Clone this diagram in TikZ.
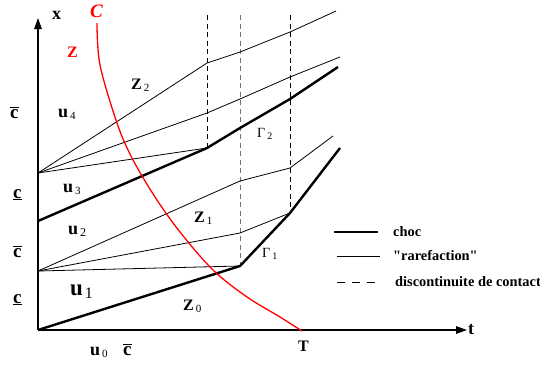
\documentclass[tikz,border=0pt]{standalone}
\usepackage{fontspec}
\setmainfont{Liberation Serif}
\newfontfamily\plainserif{Liberation Serif}
\usetikzlibrary{arrows.meta}
\newcommand\lsub[2]{\hspace{2pt}\raisebox{-0.35ex}{\fontsize{#1}{#1}\selectfont\mdseries #2}}
\newcommand\cbar{\ensuremath{\overline{\hbox{c}}}}
\begin{document}
\begin{tikzpicture}[x=1pt,y=-1pt,
  axis/.style={line width=1.4pt,-{Triangle[length=11pt,width=7.5pt]}},
  shock/.style={line width=2.4pt,line join=round},
  rare/.style={line width=0.8pt,line join=round},
  contact/.style={line width=0.9pt,dash pattern=on 5pt off 3.5pt},
  legdash/.style={line width=0.9pt,dash pattern=on 8pt off 7pt},
  curveC/.style={red,line width=1.3pt},
  lab/.style={inner sep=0pt,anchor=base west,font=\fontsize{18}{18}\selectfont\bfseries},
  clab/.style={inner sep=0pt,anchor=base west,font=\fontsize{19}{19}\selectfont\bfseries},
  zlab/.style={inner sep=0pt,anchor=base west,font=\fontsize{16}{16}\selectfont\bfseries},
  glab/.style={inner sep=0pt,anchor=base west,font=\fontsize{14}{14}\selectfont},
  leg/.style={inner sep=0pt,anchor=base west,font=\plainserif\fontsize{14.4}{14.4}\selectfont\bfseries}]
\useasboundingbox (0,0) rectangle (540,365);
% axis points
\coordinate (O) at (38,330);
\coordinate (Ytip) at (38,18);
\coordinate (Xtip) at (467,330);
\coordinate (A4) at (38,173);
\coordinate (A3) at (38,221);
\coordinate (A2) at (38,271);
% upper fan
\coordinate (P1a) at (207,63);  \coordinate (P1b) at (240,52);  \coordinate (P1c) at (290,32);  \coordinate (P1d) at (336,11);
\coordinate (P2a) at (207,113); \coordinate (P2b) at (240,99);  \coordinate (P2c) at (290,77);  \coordinate (P2d) at (340,57);
\coordinate (S2a) at (207,148); \coordinate (S2b) at (240,128); \coordinate (S2c) at (290,99);  \coordinate (S2d) at (338,67);
% lower fan
\coordinate (La) at (240,181);  \coordinate (Lb) at (290,168);  \coordinate (Lc) at (333,136);
\coordinate (Mb) at (240,233);
\coordinate (S1b) at (240,266); \coordinate (S1c) at (290,213); \coordinate (S1d) at (340,148);
% dashed tops
\coordinate (D1) at (207,15); \coordinate (D2) at (240,15); \coordinate (D3) at (290,15);
% curve C
\coordinate (Cstart) at (97,23);
\coordinate (Cend) at (302,331);

% axes
\draw[axis] (O) -- (Ytip);
\draw[axis] (O) -- (Xtip);

% contact discontinuities
\draw[contact] (D1) -- (S2a);
\draw[contact,black!55] (D2) -- (S1b);
\draw[contact] (D3) -- (S1c);

% upper rarefaction fan
\draw[rare] (A4) -- (P1a) -- (P1b) -- (P1c) -- (P1d);
\draw[rare] (A4) -- (P2a) -- (P2b) -- (P2c) -- (P2d);
\draw[rare] (A4) -- (S2a);
% shock Gamma 2
\draw[shock] (A3) -- (S2a) -- (S2b) -- (S2c) -- (S2d);

% lower rarefaction fan
\draw[rare] (A2) -- (La) -- (Lb) -- (Lc);
\draw[rare] (A2) -- (Mb) -- (S1c);
\draw[rare] (A2) -- (S1b);
% shock Gamma 1
\draw[shock] (O) -- (S1b) -- (S1c) -- (S1d);

% curve C
\draw[curveC] plot[smooth,tension=0.55] coordinates {(Cstart) (100,65) (117,123) (132,158) (155,197) (180,232) (213,270) (247,297) (280,317) (Cend)};

% labels
\node[lab] (lx) at (52,19) {x};
\node[lab] (lt) at (468,334) {t};
\node[zlab] (lT) at (298,351) {T};
\node[inner sep=0pt,anchor=base west,red,font=\fontsize{19}{19}\selectfont\bfseries\itshape] (lC) at (90,17) {C};
\node[zlab,red] (lZ) at (67,57) {Z};

\node[clab] (c1) at (10,118) {\cbar};
\node[clab] (c2) at (13,198) {\underline{c}};
\node[clab] (c3) at (13,257) {\cbar};
\node[clab] (c4) at (13,303) {\underline{c}};

\node[lab] (u4) at (58,117) {u\lsub{11}{4}};
\node[lab] (u3) at (63,192) {u\lsub{11}{3}};
\node[lab] (u2) at (68,234) {u\lsub{12}{2}};
\node[lab,font=\fontsize{23}{23}\selectfont\bfseries] (u1) at (70,295) {u\lsub{16}{1}};
\node[lab] (u0) at (90,355) {u\lsub{11}{0}};
\node[clab] (c0) at (123,355) {\cbar};

\node[zlab] (z2) at (131,89) {Z\lsub{11}{2}};
\node[zlab] (z1) at (194,222) {Z\lsub{11}{1}};
\node[zlab] (z0) at (183,310) {Z\lsub{11}{0}};

\node[glab] (g2) at (257,137) {Γ\lsub{10}{2}};
\node[glab] (g1) at (262,257) {Γ\lsub{10}{1}};

% legend
\coordinate (L1a) at (334,232); \coordinate (L1b) at (378,232);
\coordinate (L2a) at (337,256); \coordinate (L2b) at (380,256);
\coordinate (L3a) at (337,282); \coordinate (L3b) at (380,282);
\draw[shock] (L1a) -- (L1b);
\draw[rare] (L2a) -- (L2b);
\draw[legdash] (L3a) -- (L3b);
\node[leg] (t1) at (393,236) {choc};
\node[leg] (t2) at (393,260) {"rarefaction"};
\node[leg] (t3) at (395,286) {discontinuite de contact};
\end{tikzpicture}
\end{document}
